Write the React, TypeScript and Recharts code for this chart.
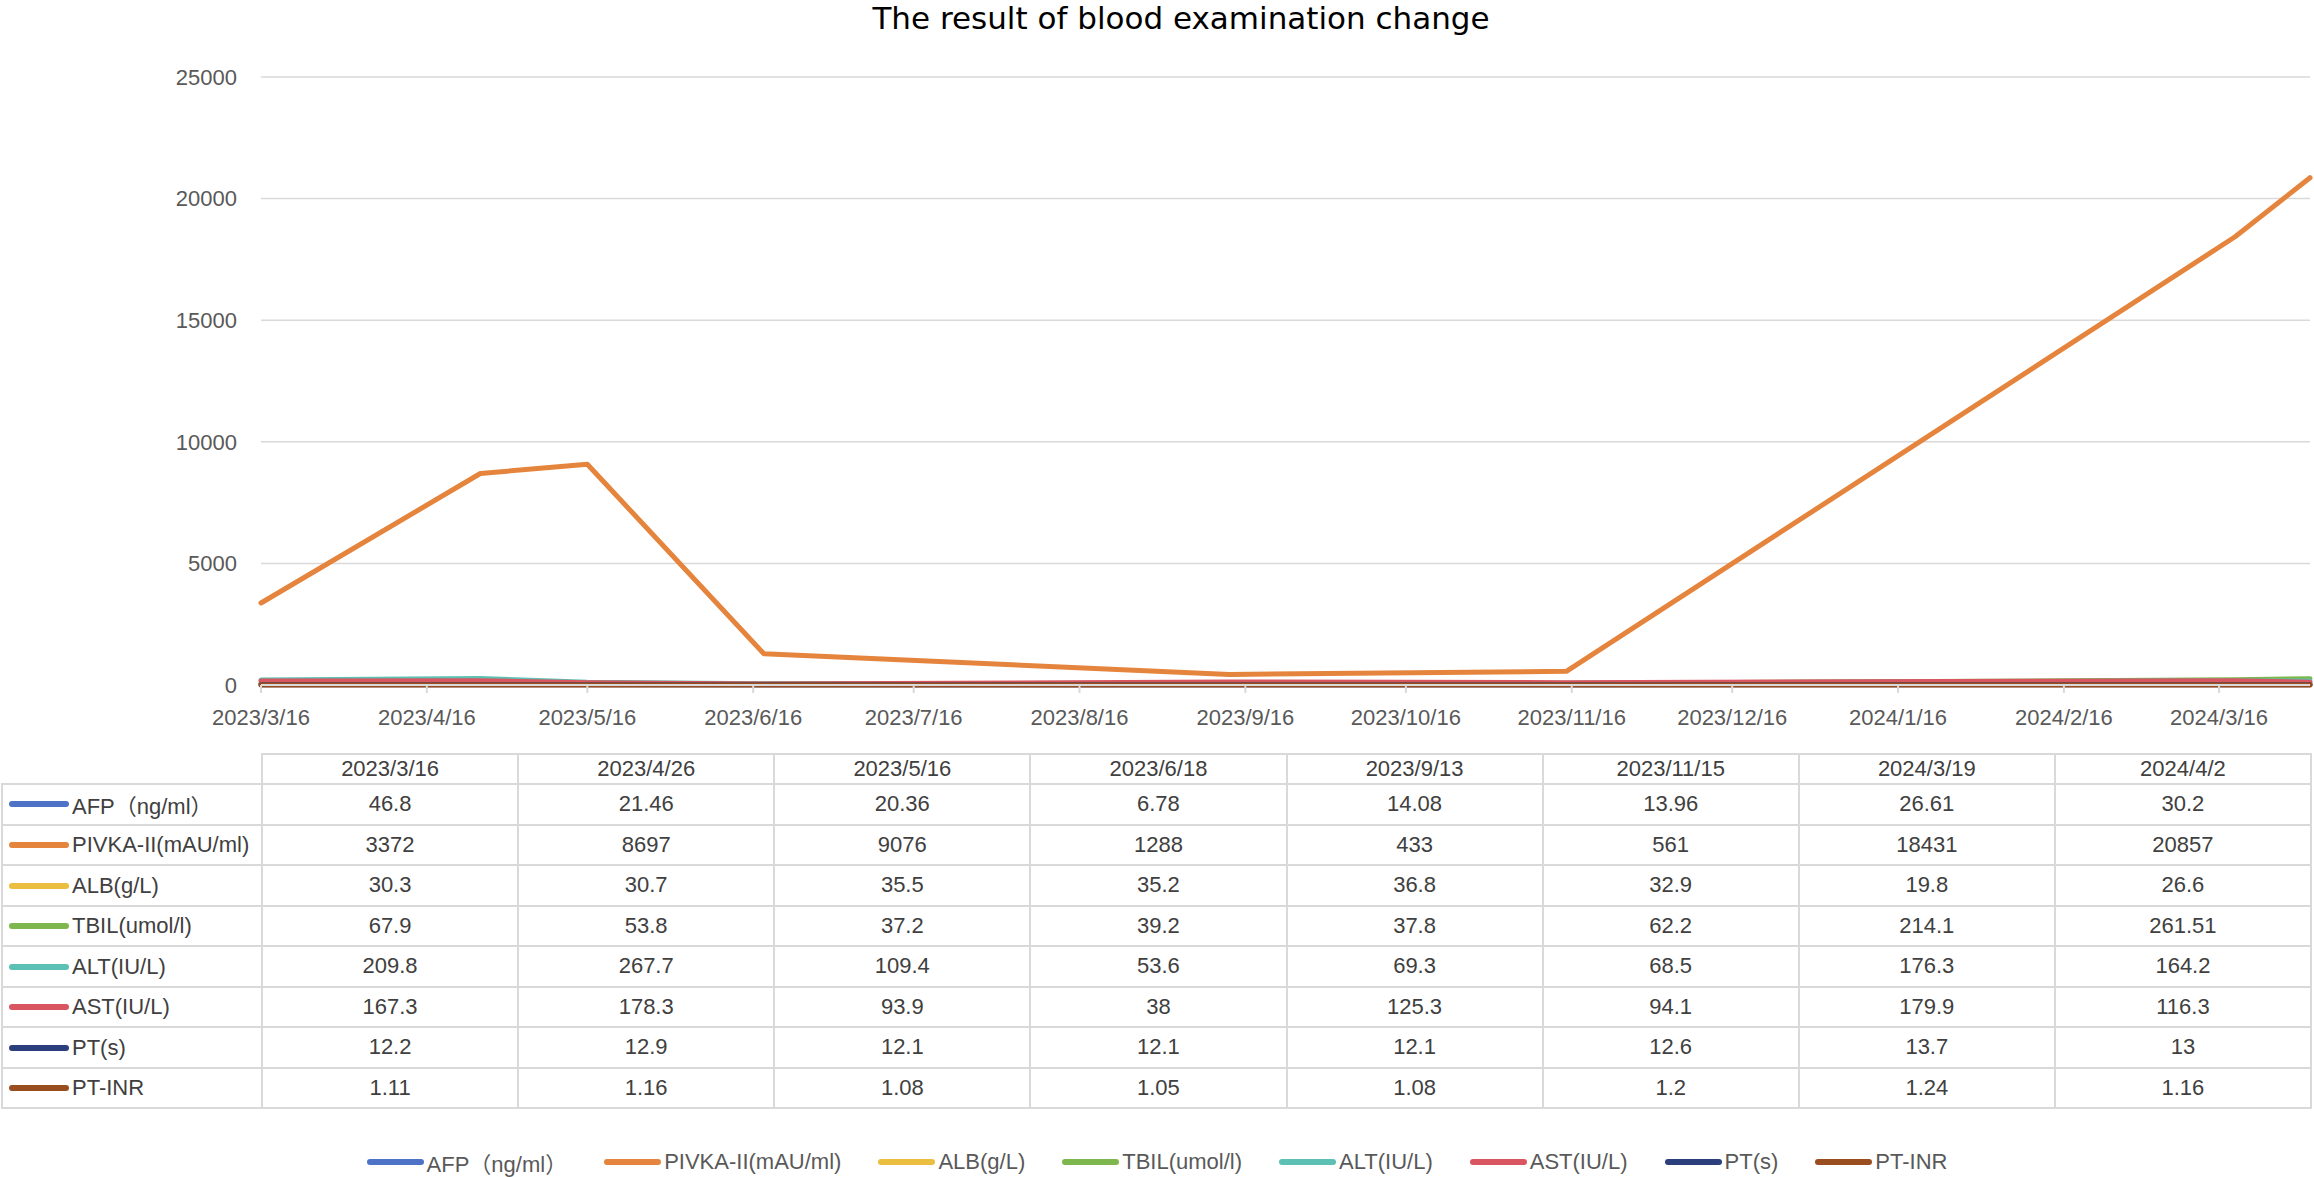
import React from 'react';
import { LineChart, Line, XAxis, YAxis, CartesianGrid, Legend } from 'recharts';

// exam dates and results
const dates = ['2023/3/16', '2023/4/26', '2023/5/16', '2023/6/18', '2023/9/13', '2023/11/15', '2024/3/19', '2024/4/2'];
const afp = [46.8, 21.46, 20.36, 6.78, 14.08, 13.96, 26.61, 30.2];
const pivka = [3372, 8697, 9076, 1288, 433, 561, 18431, 20857];
const alb = [30.3, 30.7, 35.5, 35.2, 36.8, 32.9, 19.8, 26.6];
const tbil = [67.9, 53.8, 37.2, 39.2, 37.8, 62.2, 214.1, 261.51];
const alt = [209.8, 267.7, 109.4, 53.6, 69.3, 68.5, 176.3, 164.2];
const ast = [167.3, 178.3, 93.9, 38, 125.3, 94.1, 179.9, 116.3];
const pt = [12.2, 12.9, 12.1, 12.1, 12.1, 12.6, 13.7, 13];
const ptInr = [1.11, 1.16, 1.08, 1.05, 1.08, 1.2, 1.24, 1.16];

const xTickLabels = [
  '2023/3/16', '2023/4/16', '2023/5/16', '2023/6/16', '2023/7/16', '2023/8/16', '2023/9/16',
  '2023/10/16', '2023/11/16', '2023/12/16', '2024/1/16', '2024/2/16', '2024/3/16',
];
const yTicks = [0, 5000, 10000, 15000, 20000, 25000];

const series = [
  { key: 'afp', name: 'AFP（ng/ml）', color: '#4E72C6', values: afp },
  { key: 'pivka', name: 'PIVKA-II(mAU/ml)', color: '#E5853D', values: pivka },
  { key: 'alb', name: 'ALB(g/L)', color: '#EBBE3F', values: alb },
  { key: 'tbil', name: 'TBIL(umol/l)', color: '#7DB74D', values: tbil },
  { key: 'alt', name: 'ALT(IU/L)', color: '#5DC0B4', values: alt },
  { key: 'ast', name: 'AST(IU/L)', color: '#D9555F', values: ast },
  { key: 'pt', name: 'PT(s)', color: '#2B3F7C', values: pt },
  { key: 'ptInr', name: 'PT-INR', color: '#9A4E1F', values: ptInr },
];

const toDay = (s: string) => {
  const [y, m, d] = s.split('/').map(Number);
  return Date.UTC(y, m - 1, d) / 86400000;
};
const base = toDay(dates[0]);
const lastDay = toDay(dates[dates.length - 1]) - base;
const tickDays = xTickLabels.map((t) => toDay(t) - base);

const data = dates.map((d, i) => {
  const row: Record<string, number> = { day: toDay(d) - base };
  series.forEach((s) => (row[s.key] = s.values[i]));
  return row;
});

const FONT = '"Liberation Sans", Arial, "Noto Sans CJK SC", sans-serif';
const GRID = '#D9D9D9';
const TEXT = '#595959';

const cell: React.CSSProperties = {
  border: `2px solid ${GRID}`,
  padding: 0,
  textAlign: 'center',
  fontWeight: 'normal',
  color: '#404040',
  whiteSpace: 'nowrap',
};

// legend keeps the series order (recharts sorts payload by name otherwise)
function LegendContent() {
  return (
    <div style={{ display: 'flex', justifyContent: 'center', gap: 37, fontFamily: FONT, fontSize: 22, color: TEXT }}>
      {series.map((s) => (
        <div key={s.key} style={{ display: 'flex', alignItems: 'center' }}>
          <span style={{ display: 'inline-block', width: 57, height: 6, borderRadius: 3, background: s.color, marginRight: 3 }} />
          <span>{s.name}</span>
        </div>
      ))}
    </div>
  );
}

export default function App() {
  return (
    <div style={{ position: 'absolute', left: 0, top: 0, width: 2314, height: 1177, background: '#fff', fontFamily: FONT }}>
      <div style={{ position: 'absolute', top: 0, left: 1181, transform: 'translateX(-50%)', whiteSpace: 'nowrap', fontFamily: '"DejaVu Sans", Verdana, sans-serif', fontSize: 31, color: '#000' }}>
        The result of blood examination change
      </div>
      <LineChart width={2314} height={1177} data={data} margin={{ top: 77, right: 4, bottom: 432, left: 0 }}>
        <CartesianGrid vertical={false} stroke={GRID} strokeWidth={1.5} />
        <XAxis
          dataKey="day"
          type="number"
          domain={[0, lastDay]}
          ticks={tickDays}
          interval={0}
          tickFormatter={(v: number) => xTickLabels[tickDays.indexOf(v)] ?? ''}
          height={60}
          axisLine={{ stroke: GRID, strokeWidth: 2 }}
          tickLine={{ stroke: GRID, strokeWidth: 2 }}
          tickSize={8}
          tickMargin={16}
          tick={{ fill: TEXT, fontSize: 22, fontFamily: FONT }}
        />
        <YAxis
          domain={[0, 25000]}
          ticks={yTicks}
          width={261}
          axisLine={false}
          tickLine={false}
          tickSize={0}
          tickMargin={24}
          tick={{ fill: TEXT, fontSize: 22, fontFamily: FONT }}
        />
        <Legend
          verticalAlign="middle"
          align="center"
          layout="horizontal"
          wrapperStyle={{ top: 1146, left: 0, width: 2314 }}
          content={<LegendContent />}
        />
        {series.map((s) => (
          <Line
            key={s.key}
            dataKey={s.key}
            name={s.name}
            type="linear"
            stroke={s.color}
            strokeWidth={5}
            strokeLinecap="round"
            strokeLinejoin="round"
            dot={false}
            activeDot={false}
            isAnimationActive={false}
          />
        ))}
      </LineChart>
      <table
        style={{
          position: 'absolute',
          left: 1,
          top: 753,
          width: 2311,
          borderCollapse: 'collapse',
          tableLayout: 'fixed',
          fontFamily: FONT,
          fontSize: 22,
        }}
      >
        <colgroup>
          <col style={{ width: 260 }} />
          {dates.map((d) => (
            <col key={d} />
          ))}
        </colgroup>
        <thead>
          <tr style={{ height: 30 }}>
            <th style={{ border: 'none', padding: 0 }} />
            {dates.map((d) => (
              <th key={d} style={cell}>{d}</th>
            ))}
          </tr>
        </thead>
        <tbody>
          {series.map((s) => (
            <tr key={s.key} style={{ height: 40.5 }}>
              <td style={{ ...cell, textAlign: 'left' }}>
                <span style={{ display: 'inline-block', width: 60, height: 6, borderRadius: 3, background: s.color, marginLeft: 6, marginRight: 3, verticalAlign: 'middle' }} />
                <span style={{ verticalAlign: 'middle' }}>{s.name}</span>
              </td>
              {s.values.map((v, i) => (
                <td key={i} style={cell}>{v}</td>
              ))}
            </tr>
          ))}
        </tbody>
      </table>
    </div>
  );
}
